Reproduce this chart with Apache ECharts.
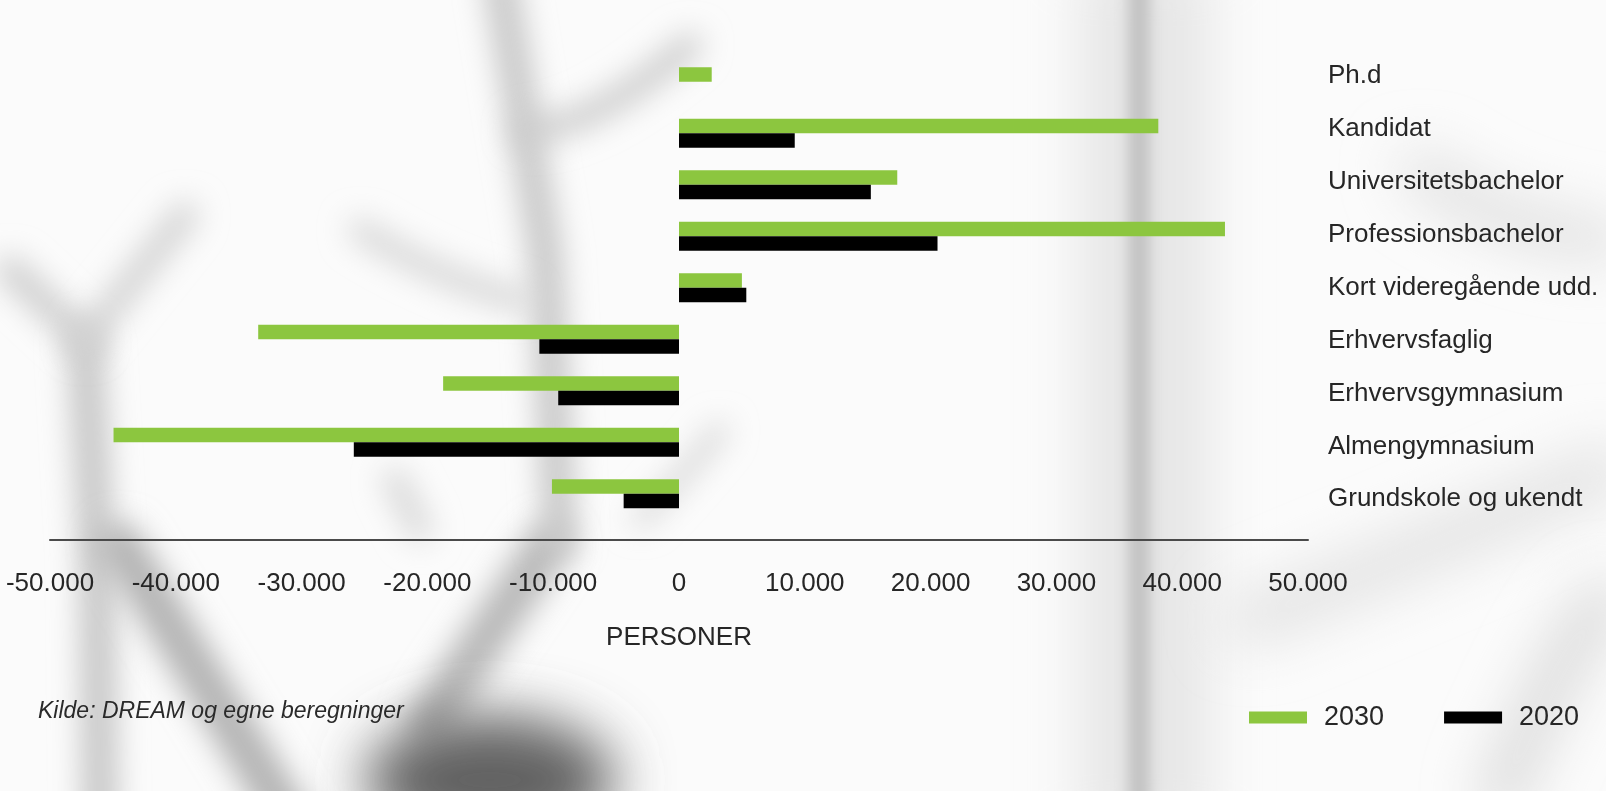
<!DOCTYPE html>
<html>
<head>
<meta charset="utf-8">
<script src="https://cdn.jsdelivr.net/npm/echarts@6/dist/echarts.min.js"></script>
<style>
  html, body { margin: 0; padding: 0; width: 1606px; height: 791px; overflow: hidden; background: #fbfbfb; }
  #bg { position: absolute; left: 0; top: 0; width: 1606px; height: 791px; }
  #chart { position: absolute; left: 0; top: 0; width: 1606px; height: 791px; }
</style>
</head>
<body>
<svg id="bg" width="1606" height="791" xmlns="http://www.w3.org/2000/svg">
  <defs>
    <filter id="b6" filterUnits="userSpaceOnUse" x="-200" y="-200" width="2006" height="1191"><feGaussianBlur stdDeviation="7"/></filter>
    <filter id="b12" filterUnits="userSpaceOnUse" x="-200" y="-200" width="2006" height="1191"><feGaussianBlur stdDeviation="15"/></filter>
    <filter id="b25" filterUnits="userSpaceOnUse" x="-200" y="-200" width="2006" height="1191"><feGaussianBlur stdDeviation="28"/></filter>
  </defs>
  <g fill="none" stroke-linecap="round">
    <!-- right vertical trunk -->
    <rect x="1080" y="-40" width="130" height="880" fill="#e6e6e6" filter="url(#b25)"/>
    <rect x="1128" y="-40" width="22" height="880" fill="#c2c2c2" filter="url(#b6)"/>
    <!-- left tree -->
    <path d="M100,820 L97,560 L85,340" stroke="#c4c4c4" stroke-width="34" filter="url(#b12)"/>
    <path d="M85,340 L10,270" stroke="#cdcdcd" stroke-width="28" filter="url(#b12)"/>
    <path d="M85,340 L185,215" stroke="#d2d2d2" stroke-width="26" filter="url(#b12)"/>
    <!-- V at bottom -->
    <path d="M120,545 L290,820" stroke="#b2b2b2" stroke-width="44" filter="url(#b12)"/>
    <path d="M548,545 L430,720" stroke="#b8b8b8" stroke-width="44" filter="url(#b12)"/>
    <ellipse cx="490" cy="780" rx="125" ry="65" fill="#626262" filter="url(#b25)"/>
    <!-- middle branch -->
    <path d="M500,-20 L525,130 L545,250 L550,340 L560,540" stroke="#c4c4c4" stroke-width="32" filter="url(#b12)"/>
    <path d="M525,130 Q590,130 690,45" stroke="#cbcbcb" stroke-width="24" filter="url(#b12)"/>
    <path d="M360,230 Q440,280 520,300" stroke="#d4d4d4" stroke-width="22" filter="url(#b12)"/>
    <path d="M395,480 L420,530" stroke="#d6d6d6" stroke-width="24" filter="url(#b12)"/>
    <path d="M720,430 Q680,480 640,520" stroke="#d2d2d2" stroke-width="16" filter="url(#b12)"/>
    <!-- right side soft shapes -->
    <path d="M1420,170 Q1500,230 1606,240" stroke="#dedede" stroke-width="40" filter="url(#b25)"/>
    <path d="M1250,620 Q1400,560 1606,470" stroke="#e2e2e2" stroke-width="50" filter="url(#b25)"/>
    <path d="M1500,800 Q1560,650 1606,600" stroke="#d6d6d6" stroke-width="40" filter="url(#b25)"/>
  </g>
</svg>
<div id="chart"></div>
<script>
const categories = ['Ph.d', 'Kandidat', 'Universitetsbachelor', 'Professionsbachelor',
  'Kort videregående udd.', 'Erhvervsfaglig', 'Erhvervsgymnasium', 'Almengymnasium', 'Grundskole og ukendt'];
const values2030 = [2600, 38100, 17350, 43400, 5000, -33450, -18750, -44950, -10100];
const values2020 = [0, 9200, 15250, 20550, 5350, -11100, -9600, -25850, -4400];
const seriesNames = ['2030', '2020'];
const xMin = -50000, xMax = 50000, xInterval = 10000;
const axisName = 'PERSONER';
const sourceText = 'Kilde: DREAM og egne beregninger';

function fmt(v) {
  const s = String(Math.abs(v)).replace(/\B(?=(\d{3})+(?!\d))/g, '.');
  return (v < 0 ? '-' : '') + s;
}

const FONT = '"Liberation Sans", Arial, Helvetica, sans-serif';
const TXT = '#262626';

// label styles: slight vertical spread of category labels (style only)
const rich = {};
for (let i = 0; i < categories.length; i++) {
  const d = -5.5 + 11 * i / (categories.length - 1);
  rich['l' + i] = {
    fontSize: 26, color: TXT, fontFamily: FONT,
    padding: d >= 0 ? [2 * d, 0, 0, 0] : [0, 0, -2 * d, 0]
  };
}

const chart = echarts.init(document.getElementById('chart'), null, { renderer: 'canvas' });
chart.setOption({
  backgroundColor: 'transparent',
  animation: false,
  textStyle: { fontFamily: FONT },
  grid: { left: 50, right: 298, top: 56, height: 463.5, containLabel: false },
  legend: {
    data: seriesNames,
    left: 1244, top: 699,
    itemWidth: 58, itemHeight: 12, itemGap: 60,
    icon: 'rect',
    textStyle: { fontSize: 27, color: TXT, fontFamily: FONT, padding: [0, 0, 0, 12] }
  },
  graphic: [{
    type: 'text', left: 38, top: 700,
    style: { text: sourceText, fontSize: 23, fontStyle: 'italic', fill: '#2a2a2a', fontFamily: FONT }
  }],
  xAxis: {
    type: 'value', min: xMin, max: xMax, interval: xInterval,
    position: 'bottom', offset: 20.5,
    name: axisName, nameLocation: 'middle', nameGap: 85,
    nameTextStyle: { fontSize: 26, color: TXT, fontFamily: FONT },
    axisLine: { show: true, onZero: false, lineStyle: { color: '#4a4a4a', width: 2 } },
    axisTick: { show: false },
    splitLine: { show: false },
    axisLabel: { formatter: fmt, fontSize: 26, color: TXT, margin: 31, fontFamily: FONT }
  },
  yAxis: {
    type: 'category', data: categories, inverse: true, position: 'right',
    axisLine: { show: false }, axisTick: { show: false },
    axisLabel: {
      fontSize: 26, color: TXT, margin: 20, fontFamily: FONT,
      formatter: function (v, i) { return '{l' + i + '|' + v + '}'; },
      rich: rich
    }
  },
  series: [
    { name: seriesNames[0], type: 'bar', data: values2030, barWidth: 14.5, barGap: '0%',
      itemStyle: { color: '#8cc63f' } },
    { name: seriesNames[1], type: 'bar', data: values2020, barWidth: 14.5, barGap: '0%',
      itemStyle: { color: '#000000' } }
  ]
});
</script>
</body>
</html>
